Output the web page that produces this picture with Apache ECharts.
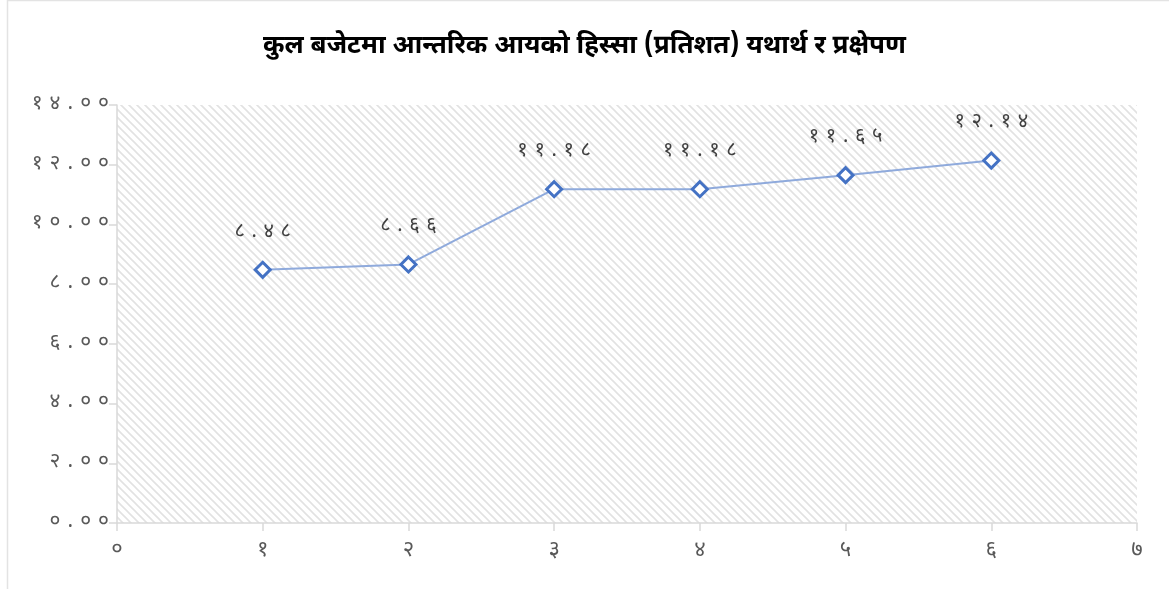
<!DOCTYPE html>
<html><head><meta charset="utf-8">
<script src="https://cdn.jsdelivr.net/npm/echarts@6/dist/echarts.min.js"></script>
<style>html,body{margin:0;padding:0;background:#fff}#c{width:1169px;height:589px}</style>
</head><body><div id="c"></div>
<script>
var title = 'कुल बजेटमा आन्तरिक आयको हिस्सा (प्रतिशत) यथार्थ र प्रक्षेपण';
var xValues = [1, 2, 3, 4, 5, 6];
var shares = [8.48, 8.66, 11.18, 11.18, 11.65, 12.14];
var xTicks = [0, 1, 2, 3, 4, 5, 6, 7];
var yTicks = [0, 2, 4, 6, 8, 10, 12, 14];

var DEV = ['०','१','२','३','४','५','६','७','८','९'];
function dev(s){ return String(s).replace(/[0-9]/g, function(d){ return DEV[+d]; }); }
function spaced(s, sp){ return s.split('').join(sp); }

var cv = document.createElement('canvas');
cv.width = 8; cv.height = 8;
var ctx = cv.getContext('2d');
ctx.fillStyle = '#ffffff'; ctx.fillRect(0,0,8,8);
ctx.strokeStyle = '#e2e2e2'; ctx.lineWidth = 1.6;
ctx.beginPath();
ctx.moveTo(-2,-2); ctx.lineTo(10,10);
ctx.moveTo(-10,-2); ctx.lineTo(2,10);
ctx.moveTo(6,-2); ctx.lineTo(18,10);
ctx.stroke();

var FONT = '"Noto Sans Devanagari","Noto Sans","Lohit Devanagari",sans-serif';
var chart = echarts.init(document.getElementById('c'));
chart.setOption({
  backgroundColor: '#fff',
  title: { text: title, left: 'center', top: 30,
    textStyle: { fontSize: 26, fontWeight: 'bold', color: '#000', fontFamily: FONT } },
  grid: { left: 117, right: 32, top: 105, bottom: 66, show: true, borderWidth: 0,
    backgroundColor: { image: cv, repeat: 'repeat' } },
  xAxis: { type: 'value', min: 0, max: 7, interval: 1,
    axisLine: { show: true, lineStyle: { color: '#d9d9d9', width: 1.5 } },
    axisTick: { show: true, length: 8, lineStyle: { color: '#d9d9d9', width: 1.5 } },
    splitLine: { show: false },
    axisLabel: { margin: 18, fontSize: 22, color: '#595959', fontFamily: FONT,
      formatter: function(v){ return dev(v); } } },
  yAxis: { type: 'value', min: 0, max: 14, interval: 2,
    axisLine: { show: true, lineStyle: { color: '#d9d9d9', width: 1.5 } },
    axisTick: { show: true, length: 8, lineStyle: { color: '#d9d9d9', width: 1.5 } },
    splitLine: { show: false },
    axisLabel: { margin: 8, fontSize: 21, color: '#595959', fontFamily: FONT,
      formatter: function(v){ return spaced(dev(v.toFixed(2)), '\u2004'); } } },
  graphic: [{ type: 'rect', shape: { x: 7.5, y: 0.5, width: 1200, height: 620 },
    style: { fill: 'none', stroke: '#e3e3e3', lineWidth: 1.5 }, silent: true }],
  series: [{
    type: 'line',
    data: xValues.map(function(x, i){ return [x, shares[i]]; }),
    symbol: 'diamond', symbolSize: 15,
    lineStyle: { color: '#8faadc', width: 2 },
    itemStyle: { color: '#ffffff', borderColor: '#4472c4', borderWidth: 3 },
    label: { show: true, position: 'top', distance: 18, fontSize: 20, color: '#404040',
      fontFamily: FONT,
      formatter: function(p){ return spaced(dev(p.value[1].toFixed(2)), '\u2004'); } },
    animation: false
  }]
});
</script></body></html>
